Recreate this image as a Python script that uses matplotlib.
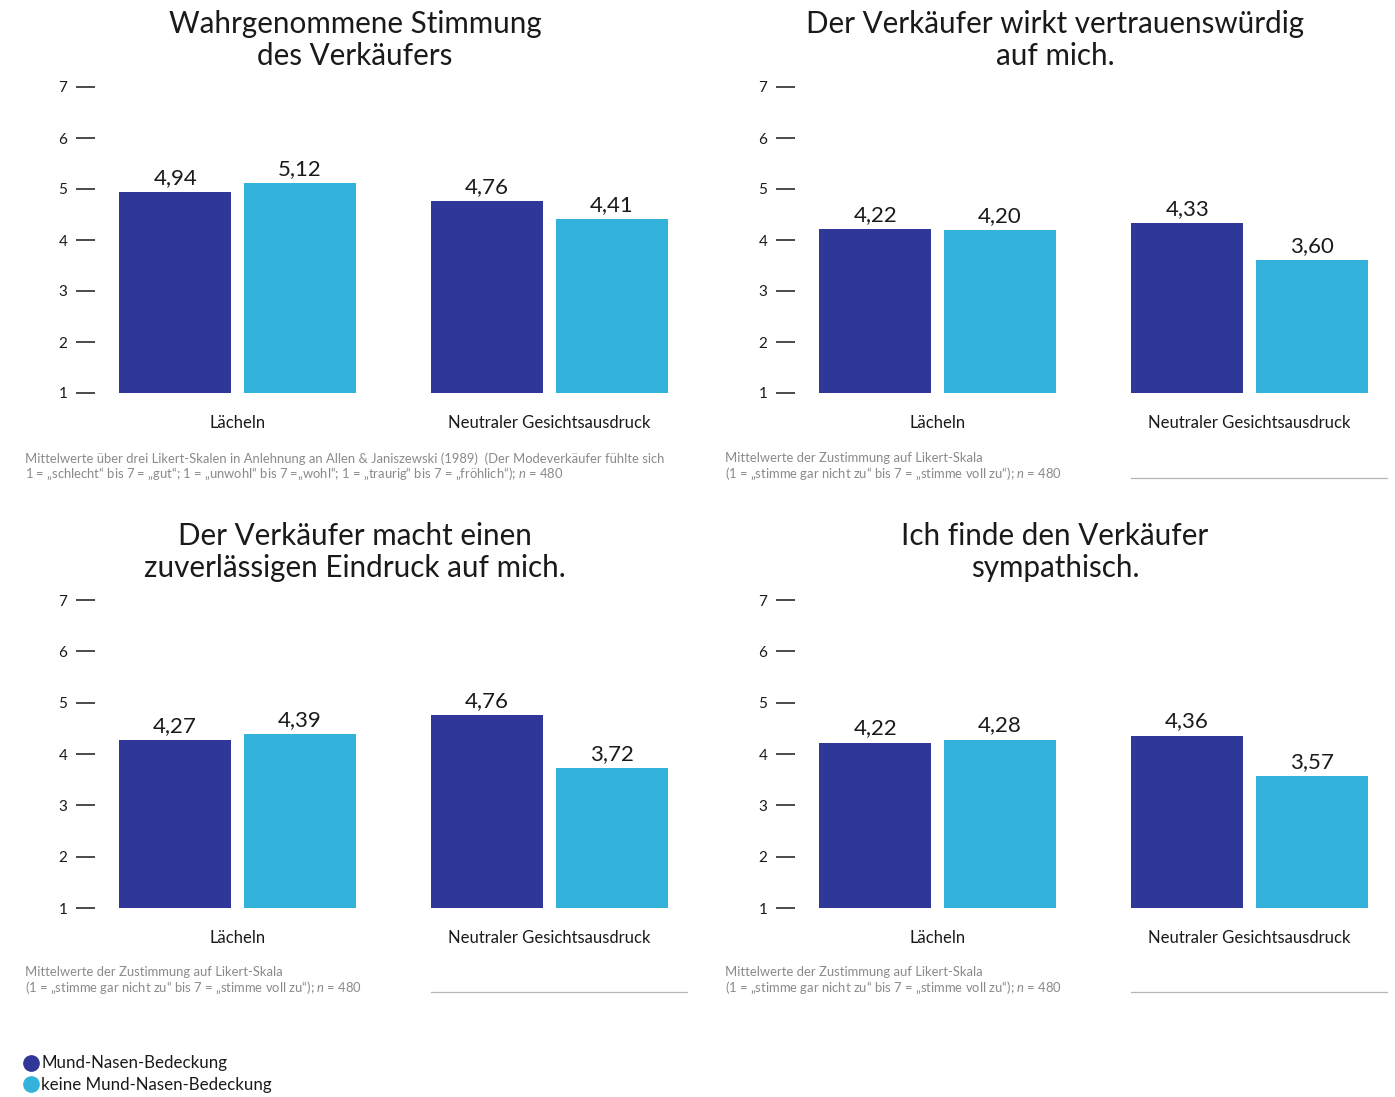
import matplotlib.pyplot as plt
from matplotlib.lines import Line2D

plt.rcParams['font.family'] = ['Lato', 'DejaVu Sans']
plt.rcParams['mathtext.fontset'] = 'custom'
plt.rcParams['mathtext.it'] = 'Lato:italic'
plt.rcParams['mathtext.rm'] = 'Lato'

# Daten
kategorien = ['Lächeln', 'Neutraler Gesichtsausdruck']
serien = ['Mund-Nasen-Bedeckung', 'keine Mund-Nasen-Bedeckung']
farben = ['#2f3799', '#33b2db']

titel = [
    'Wahrgenommene Stimmung\ndes Verkäufers',
    'Der Verkäufer wirkt vertrauenswürdig\nauf mich.',
    'Der Verkäufer macht einen\nzuverlässigen Eindruck auf mich.',
    'Ich finde den Verkäufer\nsympathisch.',
]
stimmung_mit = [4.94, 4.76]
stimmung_ohne = [5.12, 4.41]
vertrauen_mit = [4.22, 4.33]
vertrauen_ohne = [4.20, 3.60]
zuverlaessig_mit = [4.27, 4.76]
zuverlaessig_ohne = [4.39, 3.72]
sympathisch_mit = [4.22, 4.36]
sympathisch_ohne = [4.28, 3.57]
werte = [
    (stimmung_mit, stimmung_ohne),
    (vertrauen_mit, vertrauen_ohne),
    (zuverlaessig_mit, zuverlaessig_ohne),
    (sympathisch_mit, sympathisch_ohne),
]

fussnote_1 = ('Mittelwerte über drei Likert-Skalen in Anlehnung an Allen & Janiszewski (1989)  '
              '(Der Modeverkäufer fühlte sich\n'
              '1 = „schlecht“ bis 7 = „gut“; 1 = „unwohl“ bis 7 =„wohl“; 1 = „traurig“ bis 7 = '
              '„fröhlich“); $n$ = 480')
fussnote_2 = ('Mittelwerte der Zustimmung auf Likert-Skala\n'
              '(1 = „stimme gar nicht zu“ bis 7 = „stimme voll zu“); $n$ = 480')
fussnoten = [fussnote_1, fussnote_2, fussnote_2, fussnote_2]

W, H = 1395, 1097
fig = plt.figure(figsize=(W / 100, H / 100), dpi=100)

def fx(px):
    return px / W

def fy(py):
    return 1 - py / H

# Panels: (links, rechts, oben, unten) in Pixel
panels = [
    (95, 690, 87, 393),
    (795, 1390, 87, 393),
    (95, 690, 600, 908),
    (795, 1390, 600, 908),
]
titel_x = [355, 1055, 355, 1055]
titel_y = [40, 40, 552, 552]
note_y = [467, 467, 981, 981]
note_x = [25, 725, 25, 725]

breite = 0.36
versatz = 0.2
for i, (l, r, t, b) in enumerate(panels):
    ax = fig.add_axes([fx(l), fy(b), fx(r - l), (b - t) / H])
    for s, (vals, farbe) in enumerate(zip(werte[i], farben)):
        pos = [k + (s * 2 - 1) * versatz for k in range(len(kategorien))]
        bars = ax.bar(pos, [v - 0.97 for v in vals], bottom=0.97, width=breite,
                      color=farbe, zorder=2)
        for bar, v in zip(bars, vals):
            ax.annotate(f'{v:.2f}'.replace('.', ','),
                        (bar.get_x() + bar.get_width() / 2, v),
                        xytext=(0, 3), textcoords='offset points',
                        ha='center', va='bottom', fontsize=16, color='#1a1a1a')
    ax.set_ylim(1, 7)
    ax.set_xlim(-0.457, 1.45)
    ax.set_yticks(range(1, 8))
    ax.set_xticks(range(len(kategorien)))
    ax.set_xticklabels(kategorien, fontsize=12, color='#1a1a1a')
    ax.tick_params(axis='x', length=0, pad=16)
    ax.tick_params(axis='y', length=14, width=1.1, pad=6, labelsize=11,
                   colors='#1a1a1a', direction='out')
    for sp in ax.spines.values():
        sp.set_visible(False)
    ax.patch.set_alpha(0)

    fig.text(fx(titel_x[i]), fy(titel_y[i]), titel[i], ha='center', va='center',
             ma='center', fontsize=21.3, color='#1a1a1a', linespacing=1.15)
    fig.text(fx(note_x[i]), fy(note_y[i]), fussnoten[i], ha='left', va='center',
             fontsize=9.4, color='#8a8a8a', linespacing=1.1)
    if i > 0:
        ly = 478 if i == 1 else 992
        fig.add_artist(Line2D([fx(l + 336), fx(r - 3)], [fy(ly), fy(ly)],
                              color='#b5b5b5', lw=0.9))

handles = [Line2D([], [], marker='o', ls='none', markersize=11,
                  markerfacecolor=f, markeredgecolor=f) for f in farben]
fig.legend(handles, serien, loc='upper left', bbox_to_anchor=(fx(16), fy(1047)),
           frameon=False, fontsize=12.2, handletextpad=0.2, labelspacing=0.35,
           borderpad=0, handlelength=0.8, labelcolor='#1a1a1a')

fig.savefig('out.png', dpi=100, facecolor='white')
